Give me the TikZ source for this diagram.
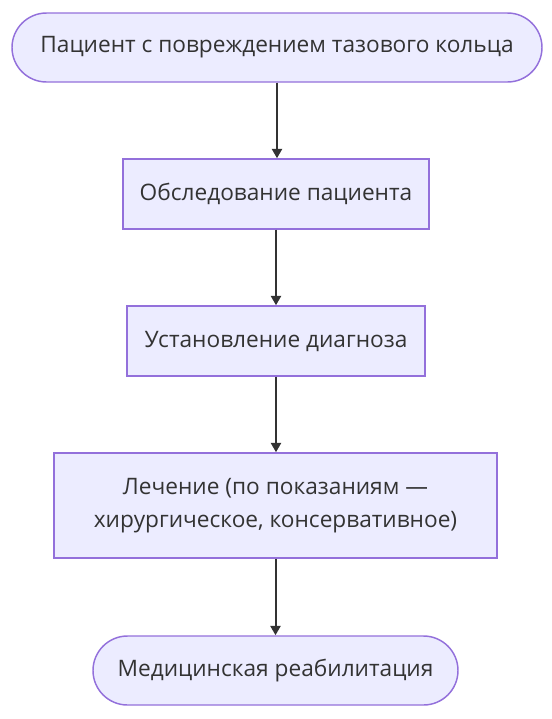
\documentclass[tikz,border=0pt]{standalone}
\usepackage{fontspec}
\setmainfont{Open Sans}
\usetikzlibrary{arrows.meta,shapes.misc}
\definecolor{nodefill}{HTML}{ECECFF}
\definecolor{nodeline}{HTML}{9370DB}
\definecolor{txt}{HTML}{333333}
\begin{document}
\begin{tikzpicture}[x=0.75pt,y=-0.75pt,
  base/.style={draw=nodeline, fill=nodefill, line width=1.1pt, text=txt,
    font=\fontsize{17}{25}\selectfont, align=center, inner sep=0pt},
  term/.style={base, rounded rectangle},
  proc/.style={base, rectangle},
  arr/.style={draw=txt, line width=1.5pt, -{Triangle[length=7pt,width=7.5pt]}}]
\useasboundingbox (0,0) rectangle (552,719);
\node[term, minimum width=397.5pt, minimum height=51.75pt] (n1) at (277,47.5) {Пациент с повреждением тазового кольца};
\node[proc, minimum width=229.5pt, minimum height=52.5pt] (n2) at (276,194) {Обследование пациента};
\node[proc, minimum width=223.5pt, minimum height=52.5pt] (n3) at (276,341) {Установление диагноза};
\node[proc, minimum width=332.25pt, minimum height=78.75pt] (n4) at (275.5,505.5) {Лечение (по показаниям —\\хирургическое, консервативное)};
\node[term, minimum width=273.75pt, minimum height=51.75pt] (n5) at (275.5,670.5) {Медицинская реабилитация};
\draw[arr] (n1.south) -- (n1.south |- n2.north);
\draw[arr] (n2.south) -- (n2.south |- n3.north);
\draw[arr] (n3.south) -- (n3.south |- n4.north);
\draw[arr] (n4.south) -- (n4.south |- n5.north);
\end{tikzpicture}
\end{document}
